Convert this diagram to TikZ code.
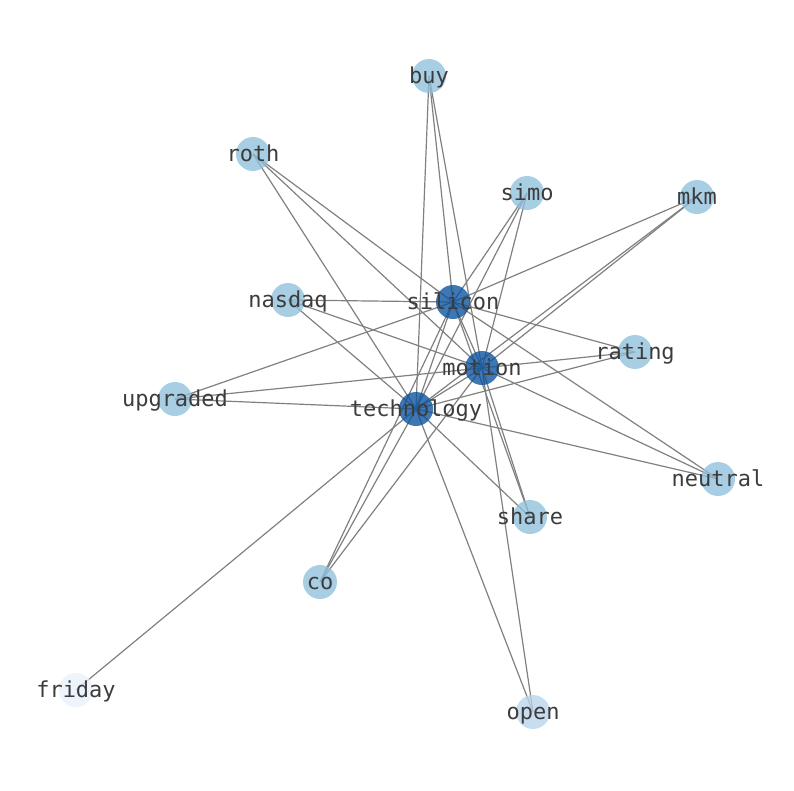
\documentclass[tikz,border=0pt]{standalone}
\usepackage{fontspec}
\setmonofont{DejaVu Sans Mono}
\usepackage{tikz}
\usetikzlibrary{backgrounds}
\definecolor{hubblue}{HTML}{08519C}
\definecolor{leafblue}{HTML}{90C0DC}
\definecolor{paleblue}{HTML}{B8D5EC}
\definecolor{faintblue}{HTML}{E9F1FB}
\definecolor{edgegray}{RGB}{128,128,128}
\definecolor{labelgray}{RGB}{60,60,60}

\begin{document}
\begin{tikzpicture}[x=1pt, y=-1pt,
    word/.style={circle, minimum size=34pt, inner sep=0pt, fill opacity=0.78,
                 label={[text=labelgray, text opacity=1, inner sep=0pt,
                         text height=18.7pt, text depth=3.3pt,
                         font=\ttfamily\fontsize{22}{26}\selectfont]center:#1}},
    hub/.style={word=#1, fill=hubblue},
    leaf/.style={word=#1, fill=leafblue}]
      \useasboundingbox (0,0) rectangle (794,790);

      \node[leaf=buy] (buy) at (429,76) {};
      \node[leaf=roth] (roth) at (253,154) {};
      \node[leaf=simo] (simo) at (527,193) {};
      \node[leaf=mkm] (mkm) at (697,197) {};
      \node[leaf=nasdaq] (nasdaq) at (288,300) {};
      \node[hub=silicon] (silicon) at (453,302) {};
      \node[leaf=rating] (rating) at (635,352) {};
      \node[hub=motion] (motion) at (482,368) {};
      \node[leaf=upgraded] (upgraded) at (175,399) {};
      \node[hub=technology] (technology) at (416,409) {};
      \node[leaf=neutral] (neutral) at (718,479) {};
      \node[leaf=share] (share) at (530,517) {};
      \node[leaf=co] (co) at (320,582) {};
      \node[word=friday, fill=faintblue] (friday) at (76,690) {};
      \node[word=open, fill=paleblue] (open) at (533,712) {};

      \begin{scope}[on background layer,
                    every edge/.style={draw=edgegray, line width=1.2pt}]
        \path (silicon.center) edge (motion.center);
        \path (silicon.center) edge (technology.center);
        \path (motion.center) edge (technology.center);
        \path (buy.center) edge (silicon.center);
        \path (buy.center) edge (motion.center);
        \path (buy.center) edge (technology.center);
        \path (roth.center) edge (silicon.center);
        \path (roth.center) edge (motion.center);
        \path (roth.center) edge (technology.center);
        \path (simo.center) edge (silicon.center);
        \path (simo.center) edge (motion.center);
        \path (simo.center) edge (technology.center);
        \path (mkm.center) edge (silicon.center);
        \path (mkm.center) edge (motion.center);
        \path (mkm.center) edge (technology.center);
        \path (nasdaq.center) edge (silicon.center);
        \path (nasdaq.center) edge (motion.center);
        \path (nasdaq.center) edge (technology.center);
        \path (rating.center) edge (silicon.center);
        \path (rating.center) edge (motion.center);
        \path (rating.center) edge (technology.center);
        \path (upgraded.center) edge (silicon.center);
        \path (upgraded.center) edge (motion.center);
        \path (upgraded.center) edge (technology.center);
        \path (neutral.center) edge (silicon.center);
        \path (neutral.center) edge (motion.center);
        \path (neutral.center) edge (technology.center);
        \path (share.center) edge (silicon.center);
        \path (share.center) edge (motion.center);
        \path (share.center) edge (technology.center);
        \path (co.center) edge (silicon.center);
        \path (co.center) edge (motion.center);
        \path (co.center) edge (technology.center);
        \path (open.center) edge (motion.center);
        \path (open.center) edge (technology.center);
        \path (friday.center) edge (technology.center);
      \end{scope}
\end{tikzpicture}
\end{document}
